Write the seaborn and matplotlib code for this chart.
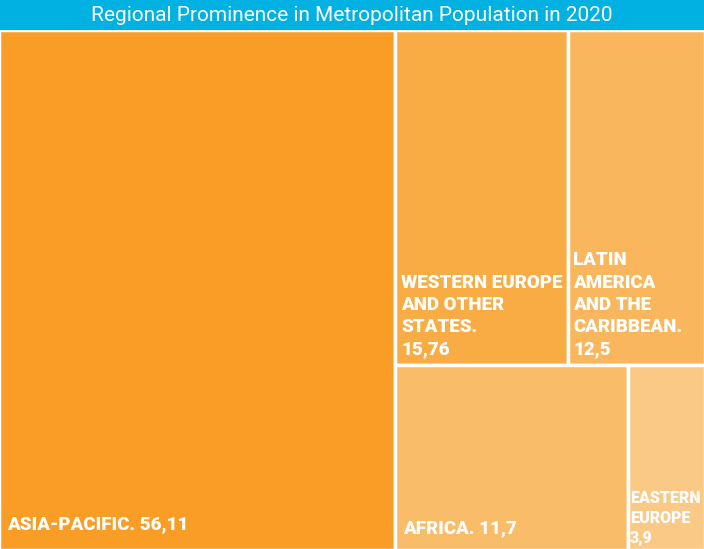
import matplotlib
matplotlib.use("Agg")
import matplotlib.pyplot as plt
import seaborn as sns

regions = ["ASIA-PACIFIC.", "WESTERN EUROPE\nAND OTHER\nSTATES.", "LATIN\nAMERICA\nAND THE\nCARIBBEAN.",
           "AFRICA.", "EASTERN\nEUROPE"]
values = [56.11, 15.76, 12.5, 11.7, 3.9]
value_labels = ["56,11", "15,76", "12,5", "11,7", "3,9"]
colors = ["#F99D26", "#FAAC44", "#F9B65D", "#F9BC68", "#FBC986"]
title = "Regional Prominence in Metropolitan Population in 2020"

sns.set_theme(style="white")
plt.rcParams["font.family"] = ["Roboto", "DejaVu Sans"]

# simple slice-and-dice layout: first tile takes a full-height column,
# the rest are split into two rows of two tiles
total = sum(values)
W, H = 1.0, 1.0
tiles = []
w0 = values[0] / total * W
tiles.append((0, 0, w0, H))
rest = total - values[0]
rows = [[1, 2], [3, 4]]
y = H
for row in rows:
    row_sum = sum(values[i] for i in row)
    rh = row_sum / rest * H
    y -= rh
    x = w0
    for i in row:
        cw = values[i] / row_sum * (W - w0)
        tiles.append((x, y, cw, rh))
        x += cw

fig = plt.figure(figsize=(7.04, 5.49), dpi=100)
# axes pushed slightly past the figure edge so outer white borders are cut off
ax = fig.add_axes([-1.3 / 704, -1.3 / 549, 1 + 2.6 / 704, 1 - 28.7 / 549])
ax.bar([t[0] for t in tiles], [t[3] for t in tiles], width=[t[2] for t in tiles],
       bottom=[t[1] for t in tiles], align="edge", color=colors,
       edgecolor="white", linewidth=2.5)
ax.set_xlim(0, W)
ax.set_ylim(0, H)
ax.axis("off")

label_style = [
    # (text, fontsize, pad_x_px, pad_bottom_px)
    (f"{regions[0]} {value_labels[0]}", 13.5, 8, 17),
    (f"{regions[1]}\n{value_labels[1]}", 13.5, 6, 7),
    (f"{regions[2]}\n{value_labels[2]}", 13.5, 5, 7),
    (f"{regions[3]} {value_labels[3]}", 13.5, 8, 13),
    (f"{regions[4]}\n{value_labels[4]}", 11.5, 2, 4),
]
for (x, y, w, h), (txt, fs, px, pad) in zip(tiles, label_style):
    ax.annotate(txt, xy=(x, y), xycoords="data", xytext=(px, pad), textcoords="offset pixels",
                ha="left", va="bottom", color="white", fontsize=fs, fontweight="heavy",
                linespacing=1.3)

# title bar
bar = fig.add_axes([0, 1 - 30 / 549, 1, 30 / 549])
bar.set_facecolor("#00B1E1")
bar.set_xticks([])
bar.set_yticks([])
for s in bar.spines.values():
    s.set_visible(False)
bar.text(0.5, 0.48, title, ha="center", va="center", color="white", fontsize=15,
         transform=bar.transAxes)

fig.savefig("out.png", dpi=100)
